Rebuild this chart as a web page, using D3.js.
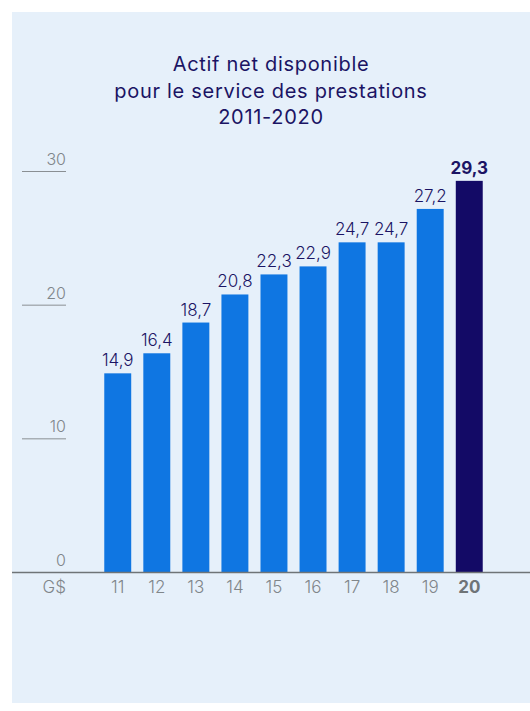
<!DOCTYPE html>
<html>
<head>
<meta charset="utf-8">
<script src="https://cdn.jsdelivr.net/npm/d3@7"></script>
<style>
  body { margin: 0; background: #fff; }
  svg { display: block; font-family: "Inter", sans-serif; }
</style>
</head>
<body>
<script>
(function(){

//chart data
var years = ["11", "12", "13", "14", "15", "16", "17", "18", "19", "20"];
var values = [14.9, 16.4, 18.7, 20.8, 22.3, 22.9, 24.7, 24.7, 27.2, 29.3];
var valueLabels = ["14,9", "16,4", "18,7", "20,8", "22,3", "22,9", "24,7", "24,7", "27,2", "29,3"];
var yTicks = [0, 10, 20, 30];
var titleLines = ["Actif net disponible", "pour le service des prestations", "2011-2020"];
var unitLabel = "G$";

//frame
var width = 530,
    height = 711;

var svg = d3.select("body")
  .append("svg")
  .attr("width", width)
  .attr("height", height);

//background panel
svg.append("rect")
  .attr("x", 12)
  .attr("y", 12)
  .attr("width", width - 12)
  .attr("height", 691)
  .attr("fill", "#e6f0fa");

//title
svg.append("g")
  .selectAll("text")
  .data(titleLines)
  .enter()
  .append("text")
  .attr("x", 271)
  .attr("y", function(d, i){ return 71 + i * 26.5; })
  .attr("text-anchor", "middle")
  .attr("font-size", 20)
  .attr("letter-spacing", 0.7)
  .attr("fill", "#1b1464")
  .text(function(d){ return d; });

//scales
var y = d3.scaleLinear()
  .domain([0, 30])
  .range([572.5, 171.5]);

var x = d3.scaleBand()
  .domain(years)
  .range([94.5, 492.5])
  .paddingInner(0.31)
  .paddingOuter(0.25);

//y ticks: short lines with labels above
var ticks = svg.append("g")
  .selectAll(".tick")
  .data(yTicks)
  .enter()
  .append("g")
  .attr("class", "tick")
  .attr("transform", function(d){ return "translate(0," + y(d) + ")"; });

ticks.filter(function(d){ return d > 0; })
  .append("line")
  .attr("x1", 22)
  .attr("x2", 66)
  .attr("stroke", "#8a8f93")
  .attr("stroke-width", 1);

ticks.append("text")
  .attr("x", 66)
  .attr("y", -6.5)
  .attr("text-anchor", "end")
  .attr("font-size", 16)
  .attr("font-weight", 300)
  .attr("fill", "#80868a")
  .text(function(d){ return d; });

//bars
svg.append("g")
  .selectAll("rect")
  .data(values)
  .enter()
  .append("rect")
  .attr("x", function(d, i){ return x(years[i]); })
  .attr("y", function(d){ return y(d); })
  .attr("width", x.bandwidth())
  .attr("height", function(d){ return y(0) - y(d); })
  .attr("fill", function(d, i){ return i === years.length - 1 ? "#130a66" : "#0f76e2"; });

//value labels
svg.append("g")
  .selectAll("text")
  .data(values)
  .enter()
  .append("text")
  .attr("x", function(d, i){ return x(years[i]) + x.bandwidth() / 2; })
  .attr("y", function(d){ return y(d) - 7; })
  .attr("text-anchor", "middle")
  .attr("font-size", 17)
  .attr("font-weight", function(d, i){ return i === years.length - 1 ? 700 : 300; })
  .attr("fill", "#1b1464")
  .text(function(d, i){ return valueLabels[i]; });

//baseline
svg.append("line")
  .attr("x1", 12)
  .attr("x2", width)
  .attr("y1", y(0))
  .attr("y2", y(0))
  .attr("stroke", "#6f7477")
  .attr("stroke-width", 1.5);

//x labels
svg.append("g")
  .selectAll("text")
  .data(years)
  .enter()
  .append("text")
  .attr("x", function(d){ return x(d) + x.bandwidth() / 2; })
  .attr("y", 593)
  .attr("text-anchor", "middle")
  .attr("font-size", 17)
  .attr("font-weight", function(d, i){ return i === years.length - 1 ? 700 : 300; })
  .attr("fill", function(d, i){ return i === years.length - 1 ? "#6f7477" : "#80868a"; })
  .text(function(d){ return d; });

svg.append("text")
  .attr("x", 66)
  .attr("y", 593)
  .attr("text-anchor", "end")
  .attr("font-size", 17)
  .attr("font-weight", 300)
  .attr("fill", "#80868a")
  .text(unitLabel);

})();
</script>
</body>
</html>
